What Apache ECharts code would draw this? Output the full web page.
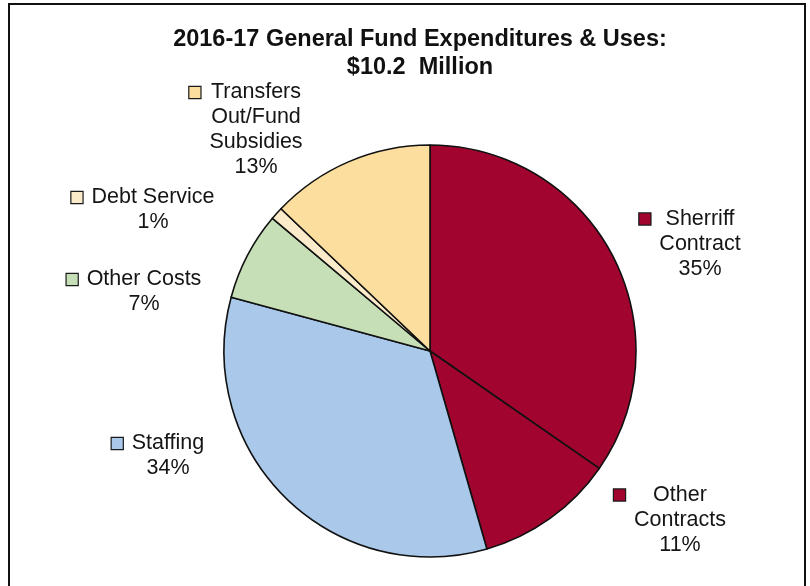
<!DOCTYPE html>
<html>
<head>
<meta charset="utf-8">
<script src="https://cdn.jsdelivr.net/npm/echarts@6/dist/echarts.min.js"></script>
<style>
  html, body { margin: 0; padding: 0; background: #ffffff; }
  #chart { width: 810px; height: 586px; }
</style>
</head>
<body>
<div id="chart"></div>
<script>
// Budget categories, clockwise from 12 o'clock
const categories = [
  'Sherriff\nContract',
  'Other\nContracts',
  'Staffing',
  'Other Costs',
  'Debt Service',
  'Transfers\nOut/Fund\nSubsidies'
];
// Share of total expenditures, percent
const shares = [35, 11, 34, 7, 1, 13];
const sliceColors = ['#A1042F', '#A1042F', '#A9C8EA', '#C6DFB6', '#FBEBCB', '#FCDF9F'];
// Label block centres (x, y) in pixels
const labelCenters = [
  [700, 244], [680, 520], [168, 456], [144, 292], [153, 210], [256, 130]
];

const FONT = '"Liberation Sans", Arial, sans-serif';
const MARK = 11, GAP = 9, SIDE = MARK + GAP;

const rich = {
  t: { fontSize: 21.5, fontFamily: FONT, color: '#151515', lineHeight: 25 },
  g: { width: GAP, height: 1, align: 'left', lineHeight: 25 },
  l: { width: SIDE, height: 1, align: 'left', lineHeight: 25 },
  p: { width: SIDE, height: 1, align: 'right', lineHeight: 25 }
};
sliceColors.forEach((c, i) => {
  rich['m' + i] = {
    width: MARK, height: MARK, align: 'left',
    backgroundColor: c, borderColor: '#1a1a1a', borderWidth: 1.2, lineHeight: 25
  };
});

const data = categories.map((name, i) => ({
  name: name,
  value: shares[i],
  itemStyle: { color: sliceColors[i] }
}));

const chart = echarts.init(document.getElementById('chart'), null, { renderer: 'canvas' });
chart.setOption({
  backgroundColor: '#ffffff',
  animation: false,
  title: {
    text: '2016-17 General Fund Expenditures & Uses:\n$10.2  Million',
    left: 415,
    top: 21,
    textAlign: 'center',
    textStyle: {
      fontFamily: FONT, fontSize: 23.5, fontWeight: 'bold',
      color: '#111111', lineHeight: 28
    }
  },
  graphic: [{
    type: 'rect',
    shape: { x: 9, y: 4, width: 796, height: 600 },
    style: { fill: 'none', stroke: '#111111', lineWidth: 2 },
    silent: true
  }],
  series: [{
    type: 'pie',
    center: [430, 351],
    radius: 206,
    startAngle: 90,
    clockwise: true,
    avoidLabelOverlap: false,
    itemStyle: { borderColor: '#111111', borderWidth: 1.6 },
    emphasis: { disabled: true },
    labelLine: { show: false },
    label: {
      show: true,
      position: 'outside',
      align: 'center',
      lineHeight: 25,
      rich: rich,
      formatter: function (p) {
        const i = p.dataIndex;
        const lines = p.name.split('\n');
        const out = ['{m' + i + '|}{g|}{t|' + lines[0] + '}{p|}'];
        for (let k = 1; k < lines.length; k++) {
          out.push('{l|}{t|' + lines[k] + '}{p|}');
        }
        out.push('{l|}{t|' + p.value + '%}{p|}');
        return out.join('\n');
      }
    },
    labelLayout: function (params) {
      const c = labelCenters[params.dataIndex];
      return { x: c[0], y: c[1], align: 'center', verticalAlign: 'middle' };
    },
    data: data
  }]
});
</script>
</body>
</html>
